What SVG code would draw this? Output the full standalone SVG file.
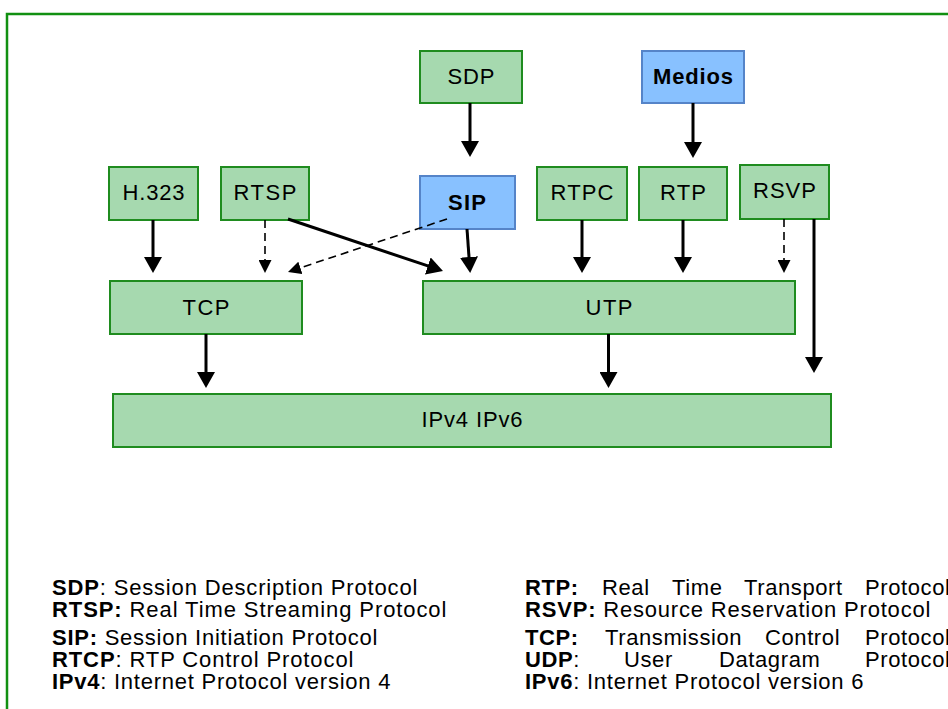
<svg xmlns="http://www.w3.org/2000/svg" width="948" height="709" viewBox="0 0 948 709">
<style>
.g rect{fill:#a6d9af;stroke:#1f8c1f;stroke-width:2}
.b rect{fill:#88c1ff;stroke:#5584c8;stroke-width:2}
text{font-family:"Liberation Sans",Arial,sans-serif;font-size:22px;fill:#000}
.lbl{text-anchor:middle}
.bd{font-weight:bold}
.leg text{font-size:22px;letter-spacing:0.6px}
.s{stroke:#000;stroke-width:3;fill:none}
.d{stroke:#000;stroke-width:1.6;fill:none;stroke-dasharray:8,5}
</style>
<defs>
<marker id="ah" viewBox="0 0 16 18" markerWidth="16" markerHeight="18" markerUnits="userSpaceOnUse" refX="4" refY="9" orient="auto"><path d="M0,0 L16,9 L0,18 z" fill="#000"/></marker>
<marker id="ad" viewBox="0 0 13 13" markerWidth="13" markerHeight="13" markerUnits="userSpaceOnUse" refX="3" refY="6.5" orient="auto"><path d="M0,0 L13,6.5 L0,13 z" fill="#000"/></marker>
</defs>
<rect x="7" y="14" width="980" height="760" fill="#fff" stroke="#119011" stroke-width="2.5"/>
<g id="SDP" class="g"><rect x="420" y="51" width="102" height="52"/><text class="lbl" x="471" y="84" textLength="47" lengthAdjust="spacing">SDP</text></g>
<g id="Medios" class="b"><rect x="642" y="51" width="102" height="52"/><text class="lbl bd" x="693" y="84" textLength="80" lengthAdjust="spacing">Medios</text></g>
<g id="H323" class="g"><rect x="109" y="167" width="89" height="53"/><text class="lbl" x="153.5" y="200" textLength="62" lengthAdjust="spacing">H.323</text></g>
<g id="RTSP" class="g"><rect x="221" y="167" width="88" height="53"/><text class="lbl" x="265" y="200" textLength="63" lengthAdjust="spacing">RTSP</text></g>
<g id="SIP" class="b"><rect x="420" y="176" width="95" height="53"/><text class="lbl bd" x="467" y="210" textLength="38" lengthAdjust="spacing">SIP</text></g>
<g id="RTPC" class="g"><rect x="537" y="167" width="90" height="53"/><text class="lbl" x="582" y="200" textLength="63" lengthAdjust="spacing">RTPC</text></g>
<g id="RTP" class="g"><rect x="639" y="167" width="88" height="53"/><text class="lbl" x="683" y="200" textLength="46" lengthAdjust="spacing">RTP</text></g>
<g id="RSVP" class="g"><rect x="740" y="165" width="89" height="54"/><text class="lbl" x="784.5" y="198" textLength="63" lengthAdjust="spacing">RSVP</text></g>
<g id="TCP" class="g"><rect x="110" y="281" width="192" height="53"/><text class="lbl" x="206" y="315" textLength="47" lengthAdjust="spacing">TCP</text></g>
<g id="UTP" class="g"><rect x="423" y="281" width="372" height="53"/><text class="lbl" x="609" y="315" textLength="47" lengthAdjust="spacing">UTP</text></g>
<g id="IP" class="g"><rect x="113" y="394" width="718" height="53"/><text class="lbl" x="472" y="427" textLength="101" lengthAdjust="spacing">IPv4 IPv6</text></g>
<g id="connectors">
<path class="s" d="M470,103 V145" marker-end="url(#ah)"/>
<path class="s" d="M693,103 V146" marker-end="url(#ah)"/>
<path class="s" d="M153,220 V261" marker-end="url(#ah)"/>
<path class="d" d="M265,220 V263" marker-end="url(#ad)"/>
<path class="s" d="M288,219 L431.6,267.2" marker-end="url(#ah)"/>
<path class="d" d="M447,219 L297.5,268.8" marker-end="url(#ad)"/>
<path class="s" d="M467,229 L469.3,261" marker-end="url(#ah)"/>
<path class="s" d="M582,220 V261" marker-end="url(#ah)"/>
<path class="s" d="M683,220 V261" marker-end="url(#ah)"/>
<path class="d" d="M784,219 V263" marker-end="url(#ad)"/>
<path class="s" d="M814,219 V361" marker-end="url(#ah)"/>
<path class="s" d="M206,334 V376" marker-end="url(#ah)"/>
<path class="s" d="M608.5,334 V376" marker-end="url(#ah)"/>
</g>
<g class="leg">
<text x="52" y="595" textLength="366" lengthAdjust="spacing"><tspan class="bd">SDP</tspan>: Session Description Protocol</text>
<text x="52" y="617" textLength="395" lengthAdjust="spacing"><tspan class="bd">RTSP:</tspan> Real Time Streaming Protocol</text>
<text x="52" y="645" textLength="326" lengthAdjust="spacing"><tspan class="bd">SIP:</tspan> Session Initiation Protocol</text>
<text x="52" y="667" textLength="302" lengthAdjust="spacing"><tspan class="bd">RTCP</tspan>: RTP Control Protocol</text>
<text x="52" y="689" textLength="339" lengthAdjust="spacing"><tspan class="bd">IPv4</tspan>: Internet Protocol version 4</text>
<text y="595"><tspan class="bd" x="525">RTP:</tspan><tspan x="602">Real</tspan><tspan x="672">Time</tspan><tspan x="744">Transport</tspan><tspan x="865">Protocol</tspan></text>
<text x="525" y="617" textLength="406" lengthAdjust="spacing"><tspan class="bd">RSVP:</tspan> Resource Reservation Protocol</text>
<text y="645"><tspan class="bd" x="525">TCP:</tspan><tspan x="605">Transmission</tspan><tspan x="765">Control</tspan><tspan x="865">Protocol</tspan></text>
<text y="667"><tspan class="bd" x="525">UDP</tspan>:<tspan x="624">User</tspan><tspan x="719">Datagram</tspan><tspan x="865">Protocol</tspan></text>
<text x="525" y="689" textLength="339" lengthAdjust="spacing"><tspan class="bd">IPv6</tspan>: Internet Protocol version 6</text>
</g>
</svg>
